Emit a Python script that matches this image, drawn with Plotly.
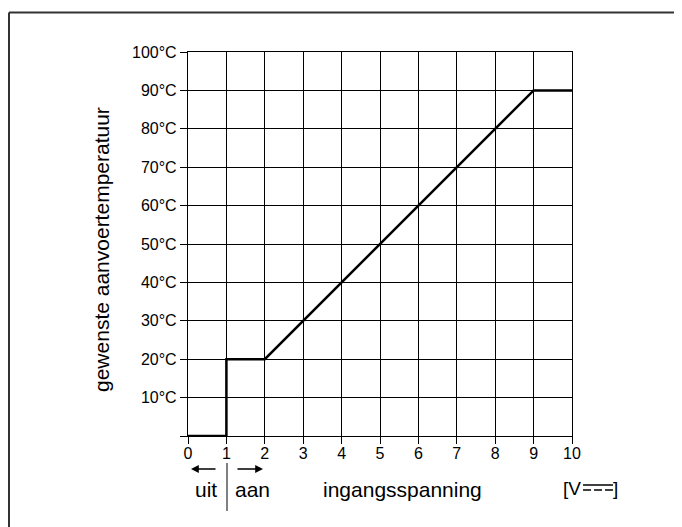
import plotly.graph_objects as go

# data
voltage = [0, 1, 1, 2, 9, 10]
temperature = [0, 0, 20, 20, 90, 90]
x_ticks = list(range(0, 11))
x_ticklabels = [str(v) for v in x_ticks]
y_ticks = list(range(0, 101, 10))
y_ticklabels = [""] + [f"{v}°C" for v in y_ticks[1:]]
y_title = "gewenste aanvoertemperatuur"
x_title = "ingangsspanning"
label_off = "uit"
label_on = "aan"

OFF = 8  # page body margin
W, H = 682 - OFF, 527 - OFF
L, T = 188 - OFF, 52 - OFF
PW, PH = 384, 384
R = W - L - PW
B = H - T - PH
FONT = "Liberation Sans, Arial, Helvetica, sans-serif"


def px(xp):
    return (xp - OFF - L) / PW


def py(yp):
    return (T + PH - (yp - OFF)) / PH


fig = go.Figure()
fig.add_trace(go.Scatter(x=voltage, y=temperature, mode="lines",
                         line=dict(color="black", width=2.5),
                         cliponaxis=False, hoverinfo="skip"))

axis_common = dict(showgrid=True, gridcolor="black", gridwidth=1.3,
                   zeroline=False, showline=True, linecolor="black", linewidth=1.3,
                   mirror=True, ticks="outside", ticklen=7, tickwidth=1.3,
                   tickcolor="black", tickfont=dict(family=FONT, size=16, color="black"),
                   fixedrange=True)

fig.update_xaxes(range=[0, 10], tickvals=x_ticks, ticktext=x_ticklabels,
                 ticklabelstandoff=-4, **axis_common)
fig.update_yaxes(range=[0, 100], tickvals=y_ticks, ticktext=y_ticklabels, **axis_common)

shapes = []
# outer frame (top and left edges visible)
shapes.append(dict(type="line", xref="paper", yref="paper", x0=px(9), x1=px(W + OFF),
                   y0=py(12.5), y1=py(12.5), line=dict(color="#333", width=2)))
shapes.append(dict(type="line", xref="paper", yref="paper", x0=px(9), x1=px(9),
                   y0=py(12.5), y1=py(H + OFF), line=dict(color="#333", width=2)))
# separator uit/aan
shapes.append(dict(type="line", xref="paper", yref="paper", x0=px(227), x1=px(227),
                   y0=py(463), y1=py(511), line=dict(color="black", width=1)))
# DC symbol: solid line over dashed line
shapes.append(dict(type="line", xref="paper", yref="paper", x0=px(583), x1=px(613),
                   y0=py(485), y1=py(485), line=dict(color="black", width=1.5)))
for a, b in [(583, 591), (594, 602), (605, 613)]:
    shapes.append(dict(type="line", xref="paper", yref="paper", x0=px(a), x1=px(b),
                       y0=py(490), y1=py(490), line=dict(color="black", width=1.5)))

annotations = []
annotations.append(dict(text=y_title, x=px(101), y=py(250), xref="paper", yref="paper",
                        textangle=-90, showarrow=False, xanchor="center", yanchor="middle",
                        font=dict(family=FONT, size=21, color="black")))
annotations.append(dict(text=x_title, x=px(402), y=py(489), xref="paper", yref="paper",
                        showarrow=False, xanchor="center", yanchor="middle",
                        font=dict(family=FONT, size=21, color="black")))
annotations.append(dict(text=label_off, x=px(206), y=py(489), xref="paper", yref="paper",
                        showarrow=False, xanchor="center", yanchor="middle",
                        font=dict(family=FONT, size=21, color="black")))
annotations.append(dict(text=label_on, x=px(252), y=py(489), xref="paper", yref="paper",
                        showarrow=False, xanchor="center", yanchor="middle",
                        font=dict(family=FONT, size=21, color="black")))
annotations.append(dict(text="[V", x=px(561), y=py(488), xref="paper", yref="paper",
                        showarrow=False, xanchor="left", yanchor="middle",
                        font=dict(family=FONT, size=19, color="black")))
annotations.append(dict(text="]", x=px(620), y=py(488), xref="paper", yref="paper",
                        showarrow=False, xanchor="right", yanchor="middle",
                        font=dict(family=FONT, size=19, color="black")))
# arrows
annotations.append(dict(text="", x=px(191), y=py(469), xref="paper", yref="paper",
                        showarrow=True, ax=26, ay=0, arrowhead=2, arrowsize=1.2,
                        arrowwidth=1.3, arrowcolor="black"))
annotations.append(dict(text="", x=px(263), y=py(469), xref="paper", yref="paper",
                        showarrow=True, ax=-27, ay=0, arrowhead=2, arrowsize=1.2,
                        arrowwidth=1.3, arrowcolor="black"))

fig.update_layout(width=W, height=H, margin=dict(l=L, r=R, t=T, b=B, pad=0),
                  plot_bgcolor="white", paper_bgcolor="white", showlegend=False,
                  shapes=shapes, annotations=annotations)

fig.write_html("out.html",
               post_script="document.documentElement.style.overflow='hidden';"
                           "document.body.style.overflow='hidden';")
